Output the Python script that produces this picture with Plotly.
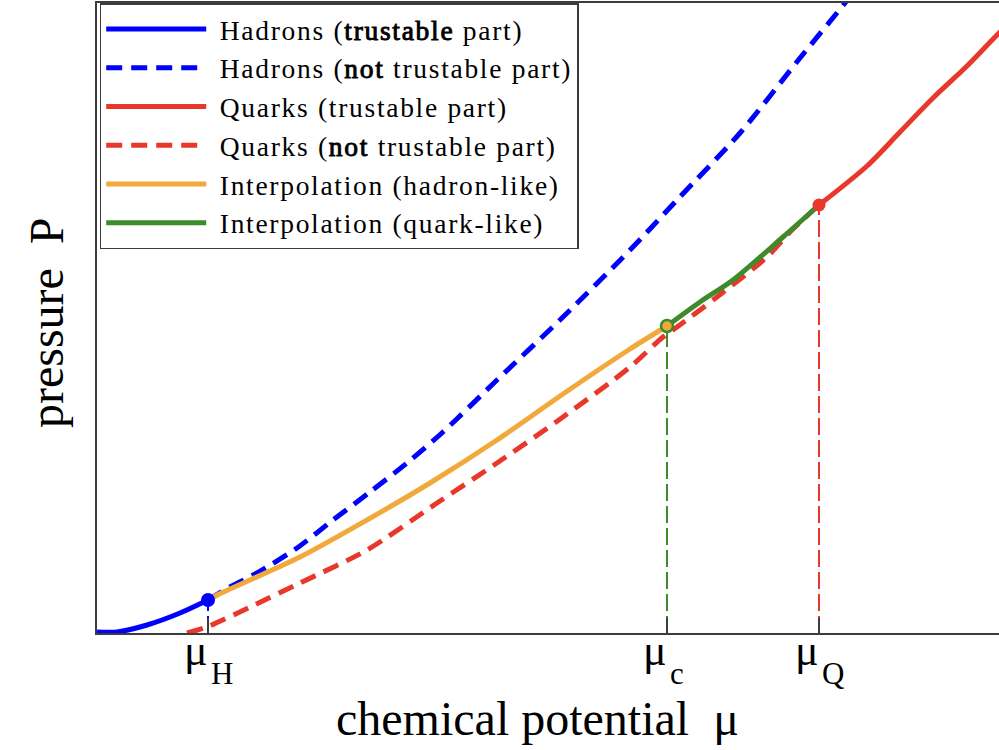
import plotly.graph_objects as go

# ---------------- data ----------------
BLUE = "#0000ff"
RED = "#e8382b"
ORANGE = "#f2a93b"
GREEN = "#3d8b2a"
AXIS = "#3c3c3c"

tick_main = ["μ", "μ", "μ"]
tick_sub = ["H", "c", "Q"]
mu_H, mu_c, mu_Q = 1.11, 5.70, 7.22
P_H, P_c, P_Q = 0.33, 3.07, 4.28

had_true_mu = [0.00, 0.20, 0.50, 0.83, 1.11]
had_true_P = [0.01, 0.01, 0.08, 0.20, 0.33]

had_false_mu = [1.11, 1.33, 1.60, 2.00, 2.36, 2.73, 3.10, 3.46, 4.00, 4.66,
                5.33, 5.80, 6.43, 7.03, 7.48, 7.70]
had_false_P = [0.33, 0.46, 0.60, 0.85, 1.13, 1.41, 1.70, 2.01, 2.53, 3.16,
               3.83, 4.33, 5.00, 5.75, 6.30, 6.58]

q_true_mu = [7.22, 7.70, 8.03, 8.36, 8.70, 9.02, 9.15]
q_true_P = [4.28, 4.67, 5.01, 5.35, 5.67, 6.00, 6.12]

q_false_mu = [0.90, 1.10, 1.53, 2.03, 2.70, 3.40, 4.00, 4.66, 5.33, 5.66,
              5.80, 6.20, 6.70, 6.93, 7.22]
q_false_P = [0.00, 0.06, 0.26, 0.50, 0.83, 1.30, 1.70, 2.16, 2.66, 2.96,
             3.06, 3.36, 3.76, 4.01, 4.28]

interp_h_mu = [1.11, 1.20, 2.03, 2.70, 3.33, 4.00, 4.66, 5.33, 5.70]
interp_h_P = [0.33, 0.38, 0.76, 1.13, 1.50, 1.93, 2.39, 2.84, 3.07]

interp_q_mu = [5.70, 6.03, 6.36, 6.86, 7.22]
interp_q_P = [3.07, 3.31, 3.53, 3.96, 4.28]

legend_names = [
    "Hadrons (<b>trustable</b> part)",
    "Hadrons (<b>not</b> trustable part)",
    "Quarks (trustable part)",
    "Quarks (<b>not</b> trustable part)",
    "Interpolation (hadron-like)",
    "Interpolation (quark-like)",
]

x_range = [0, 9.02]
y_range = [0, 6.30]

FONT = "Liberation Serif"


def lg(name):
    # emphasised words: same serif glyphs, thickened with a stroke
    name = name.replace("<b>", "<span style=\"stroke:black;stroke-width:0.9px\">")
    name = name.replace("</b>", "</span>")
    return "<span style=\"letter-spacing:1.7px\">\u00a0" + name + "</span>"


fig = go.Figure()

# vertical guide lines
for m, p, c in [(mu_H, P_H, BLUE), (mu_c, P_c, GREEN), (mu_Q, P_Q, RED)]:
    fig.add_trace(go.Scatter(x=[m, m], y=[0, p], mode="lines",
                             line=dict(color=c, width=2, dash="17px,5px"),
                             showlegend=False, hoverinfo="skip"))

DASH = "16px,9px"
SM = 0.8
fig.add_trace(go.Scatter(x=had_false_mu, y=had_false_P, mode="lines",
                         name=lg(legend_names[1]), legendrank=2,
                         line=dict(color=BLUE, width=5, dash=DASH, shape="spline", smoothing=SM)))
fig.add_trace(go.Scatter(x=q_false_mu, y=q_false_P, mode="lines",
                         name=lg(legend_names[3]), legendrank=4,
                         line=dict(color=RED, width=5, dash=DASH, shape="spline", smoothing=SM)))
fig.add_trace(go.Scatter(x=interp_h_mu, y=interp_h_P, mode="lines",
                         name=lg(legend_names[4]), legendrank=5,
                         line=dict(color=ORANGE, width=5, shape="spline", smoothing=SM)))
fig.add_trace(go.Scatter(x=interp_q_mu, y=interp_q_P, mode="lines",
                         name=lg(legend_names[5]), legendrank=6,
                         line=dict(color=GREEN, width=5, shape="spline", smoothing=SM)))
fig.add_trace(go.Scatter(x=had_true_mu, y=had_true_P, mode="lines",
                         name=lg(legend_names[0]), legendrank=1,
                         line=dict(color=BLUE, width=5, shape="spline", smoothing=SM)))
fig.add_trace(go.Scatter(x=q_true_mu, y=q_true_P, mode="lines",
                         name=lg(legend_names[2]), legendrank=3,
                         line=dict(color=RED, width=5, shape="spline", smoothing=SM)))

# point markers
fig.add_trace(go.Scatter(x=[mu_H], y=[P_H], mode="markers", showlegend=False,
                         marker=dict(color=BLUE, size=14), cliponaxis=False))
fig.add_trace(go.Scatter(x=[mu_c], y=[P_c], mode="markers", showlegend=False,
                         marker=dict(color=ORANGE, size=12,
                                     line=dict(color=GREEN, width=2.5))))
fig.add_trace(go.Scatter(x=[mu_Q], y=[P_Q], mode="markers", showlegend=False,
                         marker=dict(color=RED, size=13)))

annotations = [
    dict(text="chemical potential  μ", xref="paper", yref="paper",
         x=0.488, y=-0.136, xanchor="center", yanchor="middle",
         showarrow=False, font=dict(family=FONT, size=48, color="black")),
    dict(text="pressure  P", xref="paper", yref="paper",
         x=-0.0565, y=0.492, xanchor="center", yanchor="middle", textangle=-90,
         showarrow=False, font=dict(family=FONT, size=48, color="black")),
]
for m, tm, ts in zip([mu_H, mu_c, mu_Q], tick_main, tick_sub):
    annotations.append(dict(text=tm, xref="x", yref="paper", x=m, y=-0.027,
                            xanchor="right", yanchor="middle", xshift=2,
                            showarrow=False,
                            font=dict(family=FONT, size=44, color="black")))
    annotations.append(dict(text=ts, xref="x", yref="paper", x=m, y=-0.065,
                            xanchor="left", yanchor="middle", xshift=1,
                            showarrow=False,
                            font=dict(family=FONT, size=31, color="black")))

fig.update_layout(
    width=999, height=750,
    margin=dict(l=97, r=0, t=3, b=117),
    plot_bgcolor="white", paper_bgcolor="white",
    font=dict(family=FONT, color="black"),
    legend=dict(x=0.003, y=1, xanchor="left", yanchor="top",
                bgcolor="white", bordercolor=AXIS, borderwidth=1.5,
                font=dict(family=FONT, size=27.5, color="black"),
                itemwidth=100, tracegroupgap=0),
    xaxis=dict(range=x_range, showgrid=False, zeroline=False,
               showline=True, linecolor=AXIS, linewidth=2, mirror=True,
               tickmode="array", tickvals=[mu_H, mu_c, mu_Q],
               showticklabels=False,
               ticks="inside", ticklen=15, tickwidth=2, tickcolor=AXIS),
    yaxis=dict(range=y_range, showgrid=False, zeroline=False,
               showline=True, linecolor=AXIS, linewidth=2, mirror=False,
               showticklabels=False, ticks=""),
    annotations=annotations,
)

fig.write_html("out.html")
